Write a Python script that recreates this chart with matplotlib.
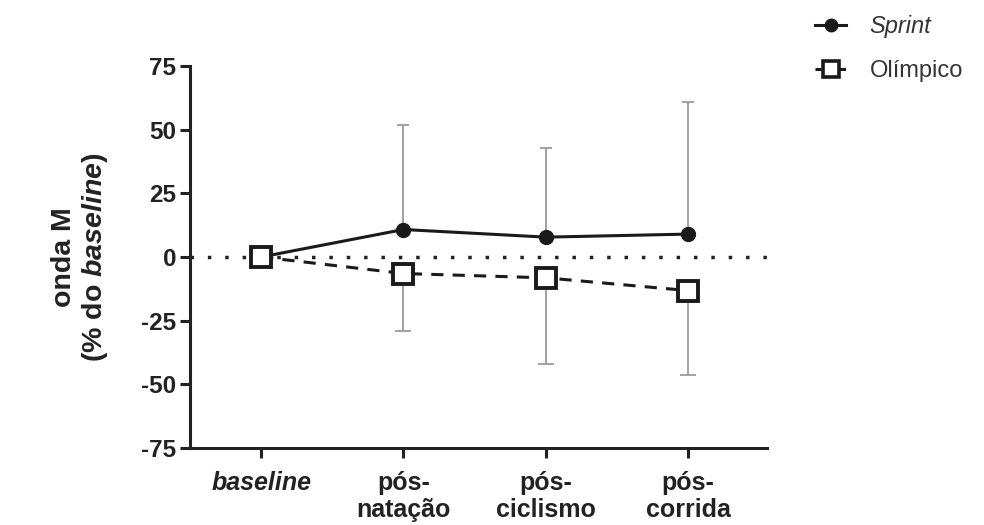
import numpy as np
import matplotlib
matplotlib.use('Agg')
import matplotlib.pyplot as plt
from matplotlib.lines import Line2D

plt.rcParams['font.family'] = ['Liberation Sans', 'DejaVu Sans']
plt.rcParams['mathtext.fontset'] = 'custom'
plt.rcParams['mathtext.it'] = 'Liberation Sans:italic:bold'
plt.rcParams['mathtext.rm'] = 'Liberation Sans:bold'
plt.rcParams['axes.unicode_minus'] = False

# data
categories = ['baseline', 'pós-\nnatação', 'pós-\nciclismo', 'pós-\ncorrida']
sprint_mean = [0, 10.8, 7.8, 9.0]
sprint_err_up = [0, 41, 35, 52]
olimp_mean = [0, -6.5, -8.2, -13.2]
olimp_err_down = [0, 22.5, 34, 33]

x = np.arange(len(categories))

fig = plt.figure(figsize=(9.84, 5.25), dpi=100)
ax = fig.add_axes([0.193, 0.147, 0.586, 0.727])

# zero reference line
ax.axhline(0, color='#222222', lw=2.5, ls=(0, (1, 4)), zorder=1)

# error bars (one-sided)
ax.errorbar(x[1:], sprint_mean[1:], yerr=[np.zeros(3), sprint_err_up[1:]],
            fmt='none', ecolor='#9a9a9a', elinewidth=1.3, capsize=4, capthick=1.3, zorder=2)
ax.errorbar(x[1:], olimp_mean[1:], yerr=[olimp_err_down[1:], np.zeros(3)],
            fmt='none', ecolor='#9a9a9a', elinewidth=1.3, capsize=6, capthick=1.3, zorder=2)

ax.plot(x, sprint_mean, color='#1a1a1a', lw=2.2, marker='o', ms=10,
        mfc='#1a1a1a', mec='#1a1a1a', zorder=3)
ax.plot(x, olimp_mean, color='#1a1a1a', lw=2.2, ls=(0, (4, 3)), marker='s', ms=14,
        mfc='white', mec='#1a1a1a', mew=2.8, zorder=4)

ax.set_xlim(-0.5, 3.55)
ax.set_ylim(-75, 75)
ax.set_yticks([-75, -50, -25, 0, 25, 50, 75])
ax.set_xticks(x)
ax.set_xticklabels(categories, fontsize=18, fontweight='bold', color='#222222',
                   linespacing=1.15)
ax.get_xticklabels()[0].set_fontstyle('italic')
for lab in ax.get_yticklabels():
    lab.set_fontsize(17.5)
    lab.set_fontweight('bold')
    lab.set_color('#222222')

for side in ['top', 'right']:
    ax.spines[side].set_visible(False)
for side in ['left', 'bottom']:
    ax.spines[side].set_linewidth(2.2)
    ax.spines[side].set_color('#222222')
ax.tick_params(axis='both', length=7, width=2.2, color='#222222', pad=3)
ax.tick_params(axis='x', pad=10)

ax.set_ylabel('onda M\n(% do $baseline$)', fontsize=20.5, fontweight='bold',
              color='#222222', linespacing=1.15, labelpad=22)

handles = [
    Line2D([], [], color='#1a1a1a', lw=2.2, marker='o', ms=9, mfc='#1a1a1a'),
    Line2D([], [], color='#1a1a1a', lw=2.2, ls=(0, (2, 2)), marker='s', ms=11,
           mfc='white', mec='#1a1a1a', mew=2.6),
]
leg = fig.legend(handles, ['Sprint', 'Olímpico'], loc='upper left',
                 bbox_to_anchor=(0.807, 1.012), frameon=False, fontsize=17,
                 handlelength=1.3, handletextpad=1.0, labelspacing=0.95)
leg.get_texts()[0].set_fontstyle('italic')
for t in leg.get_texts():
    t.set_color('#333333')

fig.savefig('out.png', dpi=100)
